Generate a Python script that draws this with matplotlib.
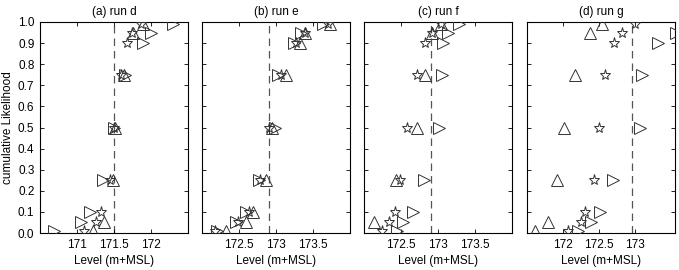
import numpy as np
import matplotlib
matplotlib.use("Agg")
import matplotlib.pyplot as plt

plt.rcParams['font.family'] = ['Liberation Sans', 'DejaVu Sans']

probs = [0.01, 0.05, 0.10, 0.25, 0.50, 0.75, 0.90, 0.95, 0.99]
nan = np.nan

titles = ["(a) run d", "(b) run e", "(c) run f", "(d) run g"]
ref_levels = [171.5, 172.9, 172.9, 172.95]
xlims = [(170.5, 172.5), (172.0, 174.0), (172.0, 174.0), (171.5, 173.55)]
xticks = [[171, 171.5, 172], [172.5, 173, 173.5], [172.5, 173, 173.5], [172, 172.5, 173]]

tri_up = [
    [171.22, 171.36, nan, 171.48, 171.51, 171.64, nan, 171.75, 171.89],
    [172.32, 172.60, 172.69, 172.86, 172.94, 173.14, 173.32, 173.39, 173.73],
    [nan, 172.14, nan, 172.43, 172.71, 172.83, nan, 172.92, 173.04],
    [171.61, 171.79, nan, 171.92, 172.01, 172.16, nan, 172.37, 172.54],
]
star = [
    [171.10, 171.25, 171.33, 171.44, 171.50, 171.59, 171.67, 171.74, 171.87],
    [172.17, 172.49, 172.63, 172.79, 172.91, 173.07, 173.27, 173.39, 173.70],
    [172.24, 172.34, 172.42, 172.48, 172.58, 172.72, 172.83, 172.92, 173.04],
    [172.07, 172.25, 172.31, 172.43, 172.50, 172.58, 172.71, 172.82, 173.00],
]
tri_right = [
    [170.69, 171.06, 171.17, 171.35, 171.50, 171.65, 171.89, 172.00, 172.30],
    [172.20, 172.46, 172.60, 172.77, 172.99, 173.03, 173.24, 173.34, 173.64],
    [172.45, 172.53, 172.66, 172.81, 173.01, 173.05, 173.07, 173.13, 173.29],
    [172.21, 172.38, 172.51, 172.69, 173.06, 173.09, 173.32, 173.56, nan],
]

yticks = [0.0, 0.1, 0.2, 0.3, 0.4, 0.5, 0.6, 0.7, 0.8, 0.9, 1.0]

fig = plt.figure(figsize=(6.79, 2.70), dpi=100)
W, H = 679.0, 270.0
lefts = [40, 202, 364, 527]
aw = 148
top_px, bot_px = 22, 233
ec = '#333333'
for i in range(4):
    ax = fig.add_axes([lefts[i] / W, 1 - bot_px / H, aw / W, (bot_px - top_px) / H])
    ax.axvline(ref_levels[i], color='#555555', linestyle=(0, (6, 4)), linewidth=0.9, zorder=1)
    ax.plot(tri_up[i], probs, linestyle='none', marker='^', markersize=8,
            markerfacecolor='none', markeredgecolor=ec, markeredgewidth=0.7, zorder=3)
    ax.plot(star[i], probs, linestyle='none', marker='*', markersize=8,
            markerfacecolor='none', markeredgecolor=ec, markeredgewidth=0.7, zorder=3)
    ax.plot(tri_right[i], probs, linestyle='none', marker='>', markersize=8,
            markerfacecolor='none', markeredgecolor=ec, markeredgewidth=0.7, zorder=3)
    ax.set_xlim(*xlims[i])
    ax.set_ylim(0, 1)
    ax.set_xticks(xticks[i])
    ax.set_xticklabels([f"{v:g}" for v in xticks[i]])
    ax.set_yticks(yticks)
    if i == 0:
        ax.set_yticklabels([f"{v:.1f}" for v in yticks])
        ax.set_ylabel("cumulative Likelihood", fontsize=8.5, labelpad=3)
    else:
        ax.set_yticklabels([])
    ax.tick_params(direction='in', top=True, right=True, length=3, width=0.6,
                   labelsize=8.5, pad=4)
    ax.set_xlabel("Level (m+MSL)", fontsize=8.5, labelpad=3)
    ax.set_title(titles[i], fontsize=8.5, pad=5)
    for s in ax.spines.values():
        s.set_linewidth(0.8)

fig.savefig("out.png", dpi=100)
